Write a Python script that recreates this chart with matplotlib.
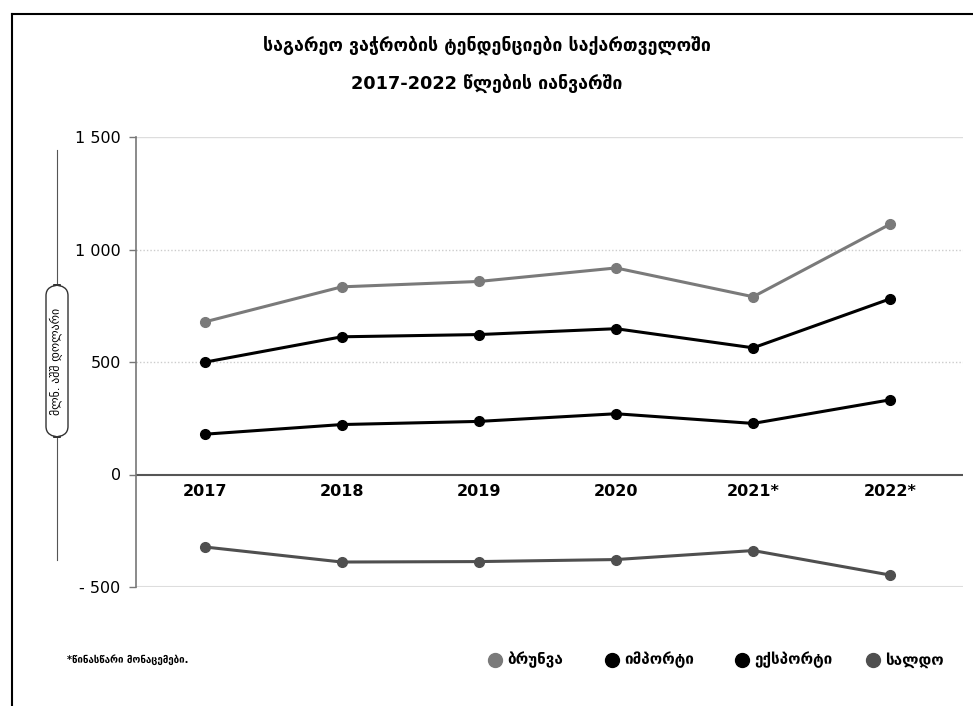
import matplotlib
matplotlib.use("Agg")
import matplotlib.pyplot as plt
from matplotlib.lines import Line2D
from matplotlib.patches import FancyBboxPatch

years = ["2017", "2018", "2019", "2020", "2021*", "2022*"]
turnover = [678, 834, 858, 918, 790, 1113]
imports = [499, 612, 622, 648, 563, 781]
exports = [179, 222, 236, 270, 227, 332]
balance = [-322, -389, -387, -378, -338, -447]

series_names = ["ბრუნვა", "იმპორტი", "ექსპორტი", "სალდო"]
series_colors = ["#7a7a7a", "#000000", "#000000", "#4f4f4f"]
title1 = "საგარეო ვაჭრობის ტენდენციები საქართველოში"
title2 = "2017-2022 წლების იანვარში"
ylabel = "მლნ. აშშ დოლარი"
footnote = "*წინასწარი მონაცემები."
yticks = [-500, 0, 500, 1000, 1500]
yticklabels = ["- 500", "0", "500", "1 000", "1 500"]

plt.rcParams['font.family'] = ['DejaVu Sans']

fig = plt.figure(figsize=(9.73, 7.06), dpi=100)
ax = fig.add_axes([136/973, 1-587/706, (963-136)/973, (587-137)/706])

x = list(range(len(years)))
for vals, col in zip([turnover, imports, exports, balance], series_colors):
    ax.plot(x, vals, color=col, lw=2.2, marker='o', ms=7, zorder=3)

ax.set_xlim(-0.5, 5.53)
ax.set_ylim(-500, 1500)
ax.set_yticks(yticks)
ax.set_yticklabels(yticklabels, fontsize=11.5)
ax.set_xticks([])
for s in ['top', 'right', 'bottom']:
    ax.spines[s].set_visible(False)
ax.spines['left'].set_color('#777777')
ax.spines['left'].set_linewidth(1.2)
ax.tick_params(axis='y', length=5, width=1, color='#777777', pad=6)

# grid lines
ax.axhline(1500, color='#dddddd', lw=1, zorder=1)
ax.axhline(-500, color='#dddddd', lw=1.5, zorder=1)
for v in [500, 1000]:
    ax.axhline(v, color='#cccccc', lw=1, ls=(0, (1, 1.5)), zorder=1)
ax.axhline(0, color='#555555', lw=1.5, zorder=2)

# x labels below zero line
for xi, lab in zip(x, years):
    ax.text(xi, -40, lab, ha='center', va='top', fontsize=11.5, fontweight='bold')

# titles
fig.text(0.5, 1-45/706, title1, ha='center', va='center', fontsize=12.8, fontweight='bold')
fig.text(0.5, 1-83/706, title2, ha='center', va='center', fontsize=12.8, fontweight='bold')

# y label with vertical line and rounded box
lx = 57/973
fig.add_artist(Line2D([lx, lx], [1-150/706, 1-560/706], color='#555555', lw=0.8))
box = FancyBboxPatch((lx - 11/973, 1-437/706), 22/973, (437-285)/706,
                     boxstyle="round,pad=0,rounding_size=0.015", transform=fig.transFigure,
                     facecolor='white', edgecolor='#333333', lw=1, zorder=5)
fig.add_artist(box)
fig.text(lx, 1-361/706, ylabel, rotation=90, ha='center', va='center', fontsize=8.5, zorder=6)

# legend
leg_x = [495, 612, 742, 873]
for lx_, name, col in zip(leg_x, series_names, series_colors):
    fig.add_artist(Line2D([lx_/973], [1-660/706], marker='o', ms=10, color=col, lw=0))
    fig.text((lx_+12)/973, 1-660/706, name, ha='left', va='center', fontsize=11, fontweight='bold')

fig.text(67/973, 1-660/706, footnote, ha='left', va='center', fontsize=7, fontweight='bold')

# frame
fig.add_artist(Line2D([12/973, 12/973], [0, 1-14/706], color='black', lw=1.5))
fig.add_artist(Line2D([12/973, 1], [1-14/706, 1-14/706], color='black', lw=1.5))

fig.savefig("out.png", dpi=100)
